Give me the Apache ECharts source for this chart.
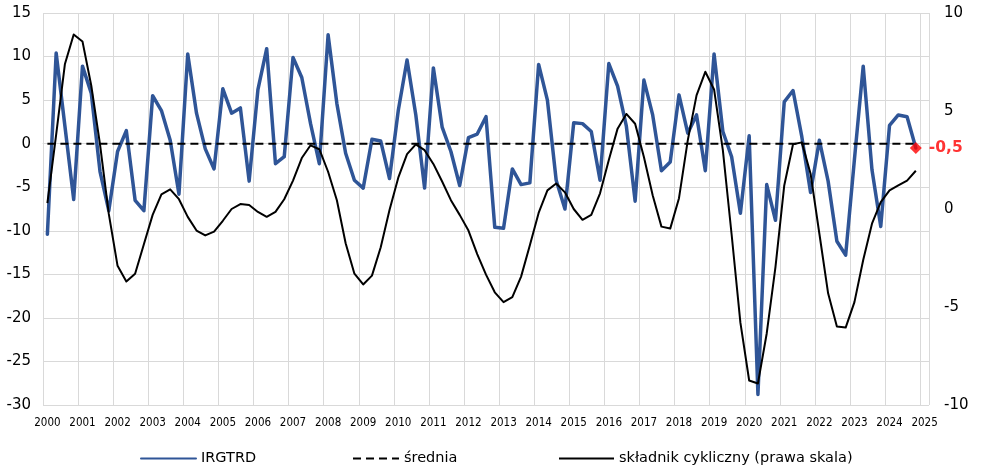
<!DOCTYPE html>
<html>
<head>
<meta charset="utf-8">
<script src="https://cdn.jsdelivr.net/npm/echarts@6/dist/echarts.min.js"></script>
<style>
html,body{margin:0;padding:0;background:#fff;}
#chart{width:982px;height:470px;}
</style>
</head>
<body>
<div id="chart"></div>
<script>
// ---- data ----
const years = ['2000','2001','2002','2003','2004','2005','2006','2007','2008','2009','2010','2011','2012',
  '2013','2014','2015','2016','2017','2018','2019','2020','2021','2022','2023','2024','2025'];

const irgtrd = [
  -10.4, 10.4, 2.0, -6.4,   8.9, 5.8, -3.2, -7.7,   -0.9, 1.5, -6.5, -7.7,   5.5, 3.8, 0.4, -5.8,
  10.3, 3.5, -0.6, -2.9,    6.3, 3.5, 4.1, -4.3,    6.2, 10.9, -2.3, -1.5,   9.9, 7.6, 2.3, -2.3,
  12.5, 4.6, -1.1, -4.2,    -5.1, 0.5, 0.3, -4.0,   3.8, 9.6, 3.3, -5.1,     8.7, 1.9, -0.9, -4.8,
  0.7, 1.1, 3.1, -9.6,      -9.7, -2.9, -4.7, -4.5, 9.1, 5.0, -4.2, -7.5,    2.4, 2.3, 1.4, -4.2,
  9.2, 6.6, 2.0, -6.6,      7.3, 3.3, -3.1, -2.1,   5.6, 1.2, 3.3, -3.1,     10.3, 1.4, -1.5, -8.0,
  0.9, -28.8, -4.7, -8.8,   4.8, 6.1, 0.8, -5.6,    0.4, -4.3, -11.2, -12.8, -1.8, 8.9, -3.0, -9.5,
  2.1, 3.3, 3.1, -0.5
];

const cykliczny = [
  0.3, 3.8, 7.4, 8.9,       8.55, 6.3, 3.3, -0.25,  -2.9, -3.7, -3.3, -1.8,  -0.3, 0.75, 1.0, 0.5,
  -0.4, -1.1, -1.35, -1.15, -0.6, 0.0, 0.25, 0.2,   -0.15, -0.4, -0.15, 0.5, 1.45, 2.6, 3.25, 3.05,
  1.9, 0.45, -1.75, -3.3,   -3.85, -3.4, -1.95, -0.05, 1.6, 2.8, 3.3, 3.0,   2.3, 1.4, 0.45, -0.3,
  -1.1, -2.3, -3.35, -4.25, -4.75, -4.5, -3.45, -1.85, -0.2, 0.95, 1.3, 0.85, 0.0, -0.55, -0.3, 0.8,
  2.5, 4.1, 4.85, 4.35,     2.65, 0.7, -0.9, -1.0,  0.55, 3.5, 5.8, 7.0,     6.1, 3.0, -1.3, -5.8,
  -8.75, -8.9, -6.35, -2.95, 1.2, 3.3, 3.4, 1.8,    -1.25, -4.3, -6.0, -6.05, -4.75, -2.6, -0.75, 0.35,
  0.95, 1.2, 1.45, 1.95
];

const sredniaValue = 0;

const leftTicks = {min: -30, max: 15, interval: 5};
const rightTicks = {min: -10, max: 10, interval: 5};

// ---- build categories (quarters), last category is 2025 Q1 ----
const categories = [];
years.forEach((y, yi) => {
  const nq = (yi === years.length - 1) ? 1 : 4;
  for (let q = 1; q <= nq; q++) categories.push(y + ' Q' + q);
});
const sredniaData = irgtrd.map(() => sredniaValue);
const lastIdx = irgtrd.length - 1;

const chart = echarts.init(document.getElementById('chart'), null, {renderer: 'canvas'});
const baseFont = 'DejaVu Sans, Verdana, sans-serif';

const legendCommon = {
  top: 451, itemHeight: 14, itemGap: 0, padding: 0,
  itemStyle: {opacity: 0},
  textStyle: {fontFamily: baseFont, fontSize: 14.5, color: '#000'}
};

chart.setOption({
  animation: false,
  backgroundColor: '#fff',
  grid: {left: 43, right: 53, top: 13, bottom: 65, containLabel: false},
  legend: [
    Object.assign({}, legendCommon, {left: 140, itemWidth: 55, data: ['IRGTRD']}),
    Object.assign({}, legendCommon, {left: 352, itemWidth: 46, data: ['średnia']}),
    Object.assign({}, legendCommon, {left: 558, itemWidth: 55, data: ['składnik cykliczny (prawa skala)']})
  ],
  xAxis: {
    type: 'category',
    data: categories,
    boundaryGap: true,
    axisLine: {show: true, lineStyle: {color: '#D9D9D9', width: 1}},
    axisTick: {show: false},
    axisLabel: {
      interval: 3,
      margin: 12,
      fontFamily: 'DejaVu Sans Condensed, DejaVu Sans, sans-serif',
      fontSize: 11.5,
      color: '#000',
      formatter: (v) => v.split(' ')[0]
    },
    splitLine: {show: true, interval: 3, lineStyle: {color: '#D9D9D9', width: 1}}
  },
  yAxis: [
    {
      type: 'value',
      min: leftTicks.min, max: leftTicks.max, interval: leftTicks.interval,
      axisLine: {show: false},
      axisTick: {show: false},
      axisLabel: {margin: 12, fontFamily: baseFont, fontSize: 15, color: '#000'},
      splitLine: {show: true, lineStyle: {color: '#D9D9D9', width: 1}}
    },
    {
      type: 'value',
      position: 'right',
      min: rightTicks.min, max: rightTicks.max, interval: rightTicks.interval,
      axisLine: {show: false},
      axisTick: {show: false},
      axisLabel: {margin: 15, fontFamily: baseFont, fontSize: 15, color: '#000'},
      splitLine: {show: false}
    }
  ],
  series: [
    {
      name: 'IRGTRD',
      type: 'line',
      data: irgtrd,
      yAxisIndex: 0,
      symbol: 'none',
      color: '#2F5597',
      lineStyle: {color: '#2F5597', width: 3.5, join: 'round', cap: 'round'},
      z: 2
    },
    {
      name: 'średnia',
      type: 'line',
      data: sredniaData,
      yAxisIndex: 0,
      symbol: 'none',
      color: '#000',
      lineStyle: {color: '#000', width: 2, type: [8, 5]},
      z: 3
    },
    {
      name: 'składnik cykliczny (prawa skala)',
      type: 'line',
      data: cykliczny,
      yAxisIndex: 1,
      symbol: 'none',
      color: '#000',
      lineStyle: {color: '#000', width: 2, join: 'round'},
      z: 4
    },
    {
      name: 'ostatnia',
      type: 'scatter',
      yAxisIndex: 0,
      data: [[lastIdx, irgtrd[lastIdx]]],
      symbol: 'diamond',
      symbolSize: 12,
      itemStyle: {color: '#FF0000'},
      label: {
        show: true,
        position: 'right',
        distance: 7,
        color: '#FF0000',
        fontWeight: 'bold',
        fontFamily: baseFont,
        fontSize: 15.5,
        formatter: (p) => p.value[1].toFixed(1).replace('.', ',')
      },
      z: 5
    }
  ]
});
</script>
</body>
</html>
